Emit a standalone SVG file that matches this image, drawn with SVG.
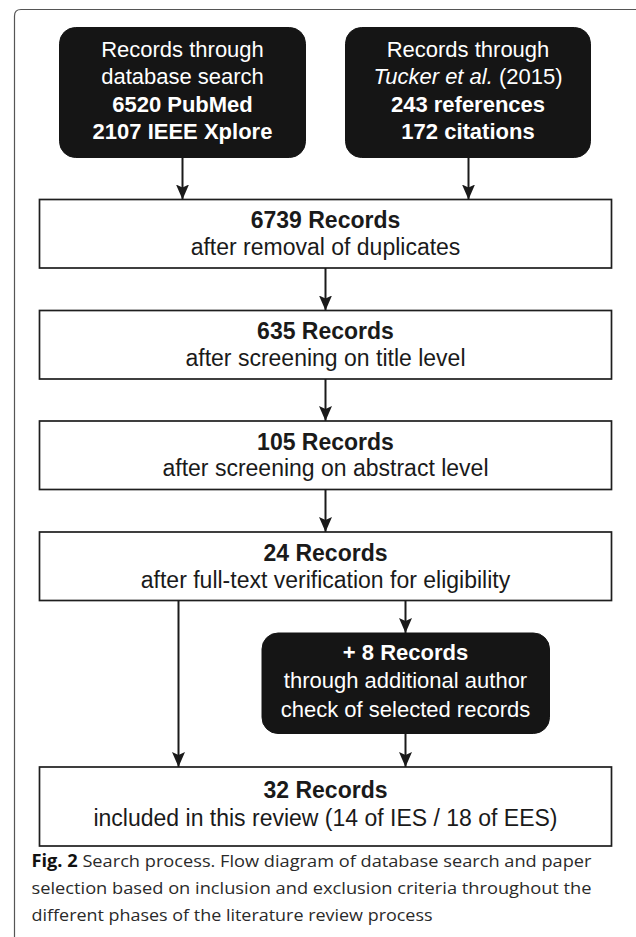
<svg xmlns="http://www.w3.org/2000/svg" width="636" height="937" viewBox="0 0 636 937">
  <style>
    .box { fill: #ffffff; stroke: #1e1e1e; stroke-width: 1.7; }
    .dark { fill: #151515; stroke: #151515; stroke-width: 1; }
    .t { font-family: "Liberation Sans", Arial, sans-serif; font-size: 23px; text-anchor: middle; fill: #1a1a1a; }
    .w { fill: #ffffff; font-size: 22px; }
    .b { font-weight: bold; }
    .i { font-style: italic; }
    .edge { stroke: #1a1a1a; stroke-width: 2; fill: none; marker-end: url(#arrow); }
    .cap { font-family: "Open Sans", "Noto Sans", sans-serif; font-size: 17px; fill: #2a2a2a; }
  </style>
  <defs>
    <marker id="arrow" markerUnits="userSpaceOnUse" markerWidth="16" markerHeight="16" viewBox="0 0 16 16" refX="15" refY="8" orient="auto">
      <path d="M0,1.5 L15,8 L0,14.5 L3,8 Z" fill="#1a1a1a"/>
    </marker>
  </defs>

  <rect width="636" height="937" fill="#ffffff"/>

  <!-- figure frame: open on the right and bottom -->
  <path d="M14.5,937 V16 Q14.5,9.5 21,9.5 H636" fill="none" stroke="#555" stroke-width="1.2"/>

  <g id="src-database">
    <rect class="dark" x="59.5" y="27.5" width="246" height="130" rx="16"/>
    <text class="t w" x="182.5" y="56.5">Records through</text>
    <text class="t w" x="182.5" y="84">database search</text>
    <text class="t w b" x="182.5" y="111.5">6520 PubMed</text>
    <text class="t w b" x="182.5" y="139">2107 IEEE Xplore</text>
  </g>

  <g id="src-tucker">
    <rect class="dark" x="345.5" y="27.5" width="245" height="130" rx="16"/>
    <text class="t w" x="468" y="56.5">Records through</text>
    <text class="t w" x="468" y="84"><tspan class="i">Tucker et al.</tspan> (2015)</text>
    <text class="t w b" x="468" y="111.5">243 references</text>
    <text class="t w b" x="468" y="139">172 citations</text>
  </g>

  <g id="dedup">
    <rect class="box" x="39.5" y="199.5" width="572" height="68.5"/>
    <text class="t b" x="325.5" y="228">6739 Records</text>
    <text class="t" x="325.5" y="254.5">after removal of duplicates</text>
  </g>

  <g id="title-screen">
    <rect class="box" x="39.5" y="310.5" width="572" height="68.5"/>
    <text class="t b" x="325.5" y="339">635 Records</text>
    <text class="t" x="325.5" y="365.5">after screening on title level</text>
  </g>

  <g id="abstract-screen">
    <rect class="box" x="39.5" y="421" width="572" height="68.5"/>
    <text class="t b" x="325.5" y="449.5">105 Records</text>
    <text class="t" x="325.5" y="476">after screening on abstract level</text>
  </g>

  <g id="fulltext">
    <rect class="box" x="39.5" y="532" width="572" height="68.5"/>
    <text class="t b" x="325.5" y="560.5">24 Records</text>
    <text class="t" x="325.5" y="587.5">after full-text verification for eligibility</text>
  </g>

  <g id="author-check">
    <rect class="dark" x="262" y="633" width="287.5" height="100.5" rx="16"/>
    <text class="t w b" x="405.5" y="659.5">+ 8 Records</text>
    <text class="t w" x="405.5" y="688">through additional author</text>
    <text class="t w" x="405.5" y="716.5">check of selected records</text>
  </g>

  <g id="included">
    <rect class="box" x="39.5" y="767" width="572" height="79"/>
    <text class="t b" x="325.5" y="798">32 Records</text>
    <text class="t" x="325.5" y="826">included in this review (14 of IES / 18 of EES)</text>
  </g>

  <g id="connectors">
    <path class="edge" d="M182.5,157.5 V199.5"/>
    <path class="edge" d="M468.5,157.5 V199.5"/>
    <path class="edge" d="M325.5,268 V310.5"/>
    <path class="edge" d="M325.5,379 V421"/>
    <path class="edge" d="M325.5,489.5 V532"/>
    <path class="edge" d="M178.5,600.5 V767"/>
    <path class="edge" d="M405.5,600.5 V633"/>
    <path class="edge" d="M405.5,733.5 V767"/>
  </g>

  <g id="caption">
    <text class="cap" x="31.5" y="867" textLength="560" lengthAdjust="spacingAndGlyphs"><tspan font-weight="bold" fill="#111">Fig. 2</tspan> Search process. Flow diagram of database search and paper</text>
    <text class="cap" x="31.5" y="894" textLength="560" lengthAdjust="spacingAndGlyphs">selection based on inclusion and exclusion criteria throughout the</text>
    <text class="cap" x="31.5" y="921" textLength="401" lengthAdjust="spacingAndGlyphs">different phases of the literature review process</text>
  </g>
</svg>
